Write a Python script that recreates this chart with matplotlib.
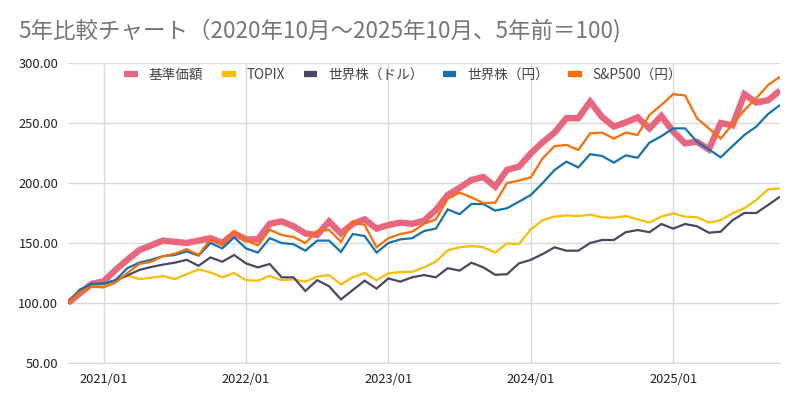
import matplotlib
matplotlib.use("Agg")
import matplotlib.pyplot as plt
from matplotlib.lines import Line2D

plt.rcParams['font.family'] = ['Noto Sans CJK JP', 'DejaVu Sans']

# months 2020/10 .. 2025/10
months = []
y, m = 2020, 10
while (y, m) <= (2025, 10):
    months.append(f"{y}/{m:02d}")
    m += 1
    if m > 12:
        m = 1
        y += 1

kijun = [100, 108, 116, 118, 127.5, 136, 144, 148, 152, 151, 150, 152, 154, 150, 158, 153,
         153, 166, 168, 164, 158, 156.7, 168, 158, 166, 169.7, 162, 165, 167, 166, 168.6,
         177.5, 190, 196, 202.5, 205, 197, 211, 213.6, 224.7, 234, 242, 254, 254, 267.8,
         255, 247, 250.5, 254.7, 245.5, 255.8, 242.8, 233, 234.4, 228, 250, 248, 274, 267,
         269, 277]
topix = [100, 111, 114, 114, 118, 123, 120, 121, 122.5, 120, 124, 128, 125.5, 121.4, 125,
         119, 118.6, 122.5, 119, 119.7, 117.8, 122, 123.3, 115.5, 121.4, 125, 119, 124.7,
         125.8, 126, 129.7, 134.4, 144, 146.4, 147.5, 146.4, 142, 149.7, 149, 161.4, 169,
         172, 173, 172.5, 173.6, 171.4, 171, 172.5, 169.7, 167, 172, 174.7, 172, 171.4, 167,
         169, 174.7, 179, 185.8, 194.7, 195.5]
world_usd = [100, 111, 116, 116, 119, 123, 127.5, 130, 132, 133.6, 136, 131, 138, 134.4, 140,
             133, 129.7, 132.5, 121.4, 121.4, 110, 119, 114, 103, 110.8, 118.6, 112, 120.5,
             117.8, 121.4, 123.3, 121.4, 129, 127, 133.6, 129.7, 123.5, 124, 133, 136, 140.8,
             146.4, 143.6, 143.6, 150, 152.5, 152.5, 159, 160.8, 159, 165.8, 162, 165.8, 164,
             158.6, 159.4, 169, 175, 175, 181.7, 188.6]
world_jpy = [100, 111, 116, 116, 119, 129, 133.6, 136, 139, 140, 143, 139.5, 150, 145.5, 154.7,
             145.5, 142, 154, 150, 149, 143.6, 152, 152, 142.5, 157.5, 155.8, 142, 150, 153,
             154, 160, 162, 178, 174, 182.5, 182.5, 177, 179, 184.4, 190, 200, 210.8, 217.8,
             213, 224, 222.5, 217, 223, 221, 233.6, 239, 245.5, 245.5, 234.4, 228, 221.4,
             230.8, 240, 247, 257.5, 265]
sp500_jpy = [100, 109, 113.6, 113, 117, 125, 132.5, 134.4, 139, 141, 145, 140, 153, 149, 160,
             152.5, 148, 161, 156.7, 155, 150, 160, 161, 151, 167.8, 165, 146.4, 154, 157.5,
             159.4, 166, 169.7, 187, 192, 188, 183.3, 183.6, 200, 202, 204.7, 220.5, 230.8,
             231.7, 227.5, 241.4, 242, 237, 242, 240, 256.7, 265, 274, 273, 254, 245.5, 237,
             249, 260.8, 270.6, 281.7, 288.6]

series_names = ["基準価額", "TOPIX", "世界株（ドル）", "世界株（円）", "S&P500（円）"]
series_vals = [kijun, topix, world_usd, world_jpy, sp500_jpy]
colors = ["#E8677F", "#FBBC04", "#4B4662", "#1473AE", "#FF6D01"]
widths = [4.6, 1.6, 1.6, 1.6, 1.6]

y_ticks = [50, 100, 150, 200, 250, 300]

fig = plt.figure(figsize=(8, 4.05), dpi=100)
ax = fig.add_axes([68/800, 1-363/405, 712/800, 300/405])

x = list(range(len(months)))
for name, vals, c, w in zip(series_names, series_vals, colors, widths):
    ax.plot(x, vals, color=c, lw=w, solid_joinstyle='miter', solid_capstyle='butt', label=name)

ax.set_xlim(0, len(months) - 1)
ax.set_ylim(50, 300)
ax.set_yticks(y_ticks)
ax.set_yticklabels([f"{v:.2f}" for v in y_ticks])
xt = [i for i, s in enumerate(months) if s.endswith("/01")]
ax.set_xticks(xt)
ax.set_xticklabels([months[i] for i in xt])

ax.grid(True, color="#d9d9d9", lw=1)
ax.set_axisbelow(True)
for s in ["top", "right", "left"]:
    ax.spines[s].set_visible(False)
ax.spines["bottom"].set_color("#d9d9d9")
ax.tick_params(axis="both", length=0, labelsize=9.3, colors="#222222")
ax.tick_params(axis="y", pad=7)
ax.tick_params(axis="x", pad=7)

fig.text(18/800, 1-31/405, "5年比較チャート（2020年10月～2025年10月、5年前＝100)",
         fontsize=16.2, color="#757575", va="center", ha="left")

leg_handles = [Line2D([0], [0], color=c, lw=4.5, solid_capstyle='butt') for c in colors]
fig.legend(leg_handles, series_names, loc="center", bbox_to_anchor=(403/800, 1-75/405),
           ncol=5, frameon=False, fontsize=9.8, handlelength=1.0, handletextpad=0.8,
           columnspacing=1.4, labelcolor="#444444")

fig.savefig("out.png", dpi=100)
